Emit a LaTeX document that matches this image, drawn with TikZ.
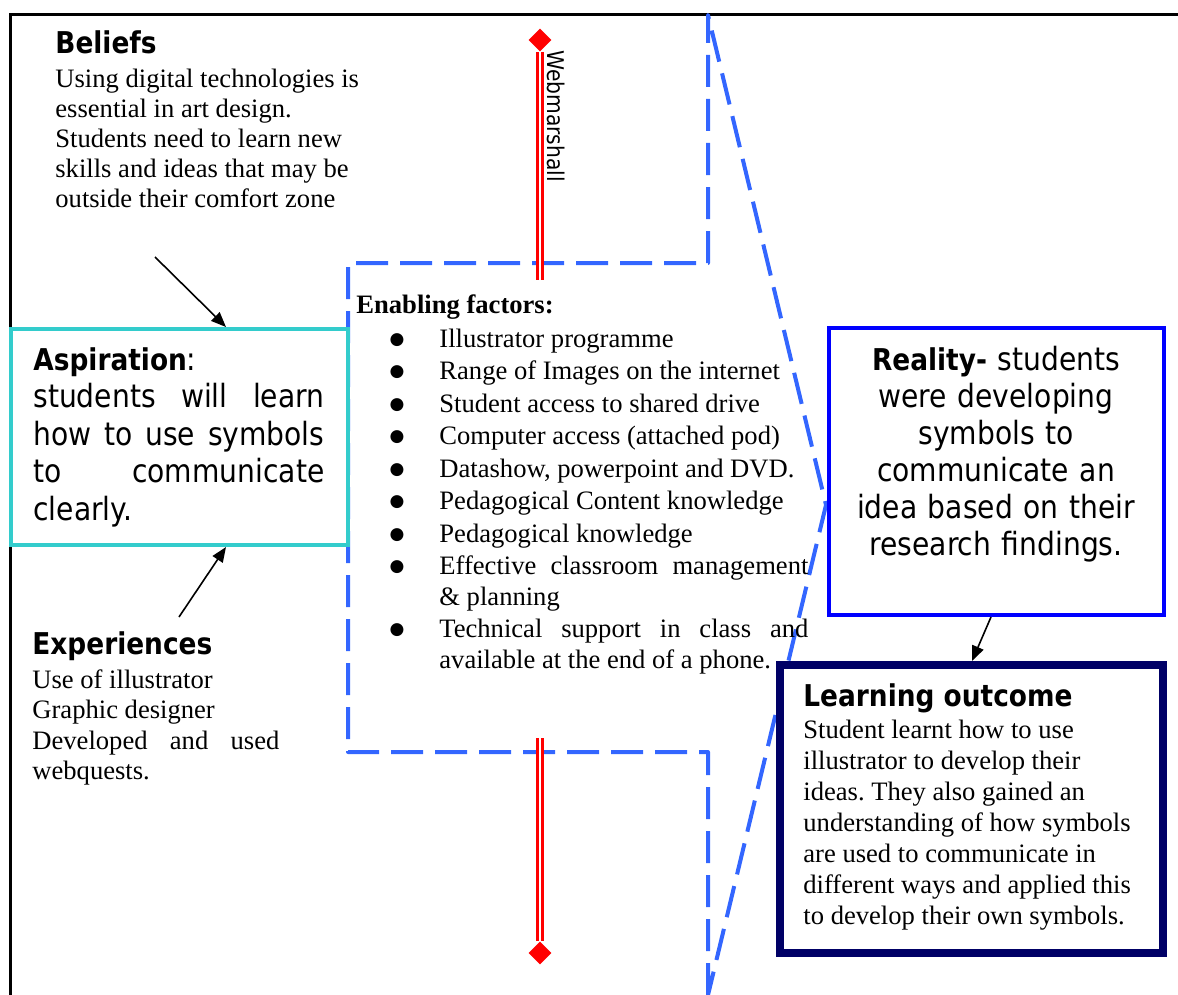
\documentclass[tikz,border=0pt]{standalone}
\usepackage{fontspec}
\setmainfont{Liberation Serif}
\newfontfamily\hdfont[FakeStretch=0.88]{DejaVu Sans}
\newfontfamily\symfont{DejaVu Sans}
\usetikzlibrary{arrows.meta,shapes.geometric}
\definecolor{dashblue}{HTML}{3366FF}
\definecolor{tealc}{HTML}{33CCCC}
\definecolor{navyc}{HTML}{000066}
\definecolor{rblue}{HTML}{0000FF}
\newcommand\bigbul{\raisebox{1.2pt}{\symfont\fontsize{8.5}{9}\selectfont ●}}
\begin{document}
\frenchspacing
\begin{tikzpicture}[x=0.5pt,y=-0.5pt,
  framestyle/.style={line width=1.5pt, black},
  dashpoly/.style={dashblue, line width=2pt, dash pattern=on 16pt off 6pt, line join=round},
  boxbase/.style={draw, fill=white, rectangle, inner sep=0pt},
  aspbox/.style={boxbase, draw=tealc, line width=2pt},
  realbox/.style={boxbase, draw=rblue, line width=2pt},
  learnbox/.style={boxbase, draw=navyc, line width=4pt},
  headtext/.style={inner sep=0pt, anchor=base west, font=\hdfont\bfseries\fontsize{15}{18}\selectfont},
  bodytext/.style={inner sep=0pt, anchor=base west, align=justify, text width=200pt, font=\fontsize{13.3}{15}\selectfont},
  sanstext/.style={inner sep=0pt, align=justify, font=\hdfont\fontsize{16}{18.8}\selectfont},
  bul/.style={inner sep=0pt, anchor=base},
  itemtext/.style={inner sep=0pt, anchor=base west, align=justify, text width=200pt, font=\fontsize{13.3}{15.5}\selectfont},
  rdiam/.style={diamond, fill=red, inner sep=0pt, minimum width=11.5pt, minimum height=11.5pt},
  redline/.style={draw=red, double=white, line width=1.3pt, double distance=1.2pt},
  arr/.style={line width=0.8pt, -{Triangle[length=7.5pt,width=6pt]}}
]
\useasboundingbox (0,0) rectangle (1178,995);
% frame
\draw[framestyle] (1178,15) -- (10,15) -- (10,995);
% dashed arrow outline
\draw[dashpoly] (708,995) -- (708,752) -- (348,752) -- (348,263) -- (708,263) -- (708,15) -- (826,505) -- cycle;
% boxes
\node[aspbox, minimum width=168.5pt, minimum height=108pt] (asp) at (179.5,437) {};
\node[realbox, minimum width=167.5pt, minimum height=143.5pt] (real) at (996.5,471.5) {};
\node[learnbox, minimum width=191.5pt, minimum height=144pt] (learn) at (971.5,809) {};
% Beliefs
\node[headtext] (belh) at (55,54) {Beliefs};
\node[bodytext] (belb) at (55,88) {Using digital technologies is\\essential in art design.\\Students need to learn new\\skills and ideas that may be\\outside their comfort zone};
% Aspiration
\node[sanstext, anchor=base west, text width=150pt] (aspt) at (33,370) {{\bfseries\fontsize{15}{18.8}\selectfont Aspiration}:\\\makebox[145.5pt][s]{students\hfill will\hfill learn}\\\makebox[145.5pt][s]{how\hfill to\hfill use\hfill symbols}\\\makebox[145.5pt][s]{to\hfill communicate}\\clearly.};
% Experiences
\node[headtext] (exph) at (32,654) {Experiences};
\node[bodytext, font=\fontsize{13.3}{15.3}\selectfont] (expb) at (32,688) {Use of illustrator\\Graphic designer\\\makebox[123.5pt][s]{Developed\hfill and\hfill used}\\webquests.};
% Reality
\node[sanstext, anchor=base, align=center, text width=165pt, font=\hdfont\fontsize{16}{18.5}\selectfont] (realt) at (996,370) {{\bfseries\fontsize{15}{18.5}\selectfont Reality-} students\\were developing\\symbols to\\communicate an\\idea based on their\\research findings.};
% Learning outcome
\node[headtext] (learnh) at (803,706) {Learning outcome};
\node[bodytext, font=\fontsize{13.3}{15.5}\selectfont] (learnb) at (803,738) {Student learnt how to use\\illustrator to develop their\\ideas. They also gained an\\understanding of how symbols\\are used to communicate in\\different ways and applied this\\to develop their own symbols.};
% Enabling factors
\node[inner sep=0pt, anchor=base west, font=\bfseries\fontsize{13.3}{15}\selectfont] (enh) at (356,313) {Enabling factors:};
\node[bul] (b1) at (397,347) {\bigbul};
\node[itemtext] (i1) at (439,347) {Illustrator programme};
\node[bul] (b2) at (397,379) {\bigbul};
\node[itemtext] (i2) at (439,379) {Range of Images on the internet};
\node[bul] (b3) at (397,412) {\bigbul};
\node[itemtext] (i3) at (439,412) {Student access to shared drive};
\node[bul] (b4) at (397,444) {\bigbul};
\node[itemtext] (i4) at (439,444) {Computer access (attached pod)};
\node[bul] (b5) at (397,477) {\bigbul};
\node[itemtext] (i5) at (439,477) {Datashow, powerpoint and DVD.};
\node[bul] (b6) at (397,509) {\bigbul};
\node[itemtext] (i6) at (439,509) {Pedagogical Content knowledge};
\node[bul] (b7) at (397,542) {\bigbul};
\node[itemtext] (i7) at (439,542) {Pedagogical knowledge};
\node[bul] (b8) at (397,574) {\bigbul};
\node[itemtext] (i8) at (439,574) {\makebox[184.5pt][s]{Effective\hfill classroom\hfill management}\\\& planning};
\node[bul] (b9) at (397,637) {\bigbul};
\node[itemtext] (i9) at (439,637) {\makebox[184.5pt][s]{Technical\hfill support\hfill in\hfill class\hfill and}\\available at the end of a phone.};
% Webmarshall
\node[rdiam] (dtop) at (540,40) {};
\node[rdiam] (dbot) at (540,953) {};
\coordinate (rtopend) at (540,280);
\coordinate (rbotend) at (540,738);
\draw[redline] (dtop.south) -- (rtopend);
\draw[redline] (rbotend) -- (dbot.north);
\node[rotate=-90, anchor=base west, inner sep=0pt, font=\hdfont\fontsize{11.5}{13}\selectfont] (webm) at (547,50) {Webmarshall};
% arrows
\coordinate (belarr) at (155,257);
\coordinate (ax1) at (226,0);
\draw[arr] (belarr) -- (ax1 |- asp.north);
\coordinate (exparr) at (179,617);
\draw[arr] (exparr) -- (ax1 |- asp.south);
\coordinate (rx) at (991,0);
\coordinate (lx) at (972,0);
\draw[arr] (rx |- real.south) -- (lx |- learn.north);
\end{tikzpicture}
\end{document}
